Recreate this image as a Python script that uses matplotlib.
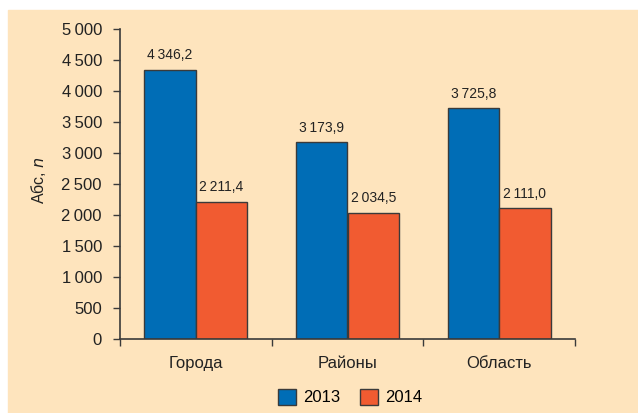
import numpy as np
import matplotlib.pyplot as plt
from matplotlib.patches import Rectangle

categories = ['Города', 'Районы', 'Область']
years = ['2013', '2014']
values_2013 = [4346.2, 3173.9, 3725.8]
values_2014 = [2211.4, 2034.5, 2111.0]
yticks = [0, 500, 1000, 1500, 2000, 2500, 3000, 3500, 4000, 4500, 5000]

blue = '#006DB6'
orange = '#F15B31'
beige = '#FEE4BD'
dark = '#3A3A3A'

plt.rcParams['font.family'] = ['Liberation Sans Narrow', 'Liberation Sans', 'DejaVu Sans']


def fmt(v, dec=0):
    s = f'{v:,.{dec}f}'
    return s.replace(',', '\u2009').replace('.', ',')


fig = plt.figure(figsize=(6.38, 4.13), dpi=100)
W, H = 638, 413
fig.patches.append(Rectangle((8 / W, 0), 1 - 8 / W, 1 - 10 / H,
                             transform=fig.transFigure, color=beige, zorder=-10))

ax = fig.add_axes([120 / W, 1 - 339 / H, (575 - 120) / W, (339 - 29) / H])
ax.set_facecolor('none')

x = np.arange(len(categories))
w = 0.34
b1 = ax.bar(x - w / 2, values_2013, w, color=blue, edgecolor=dark, linewidth=1, label=years[0])
b2 = ax.bar(x + w / 2, values_2014, w, color=orange, edgecolor=dark, linewidth=1, label=years[1])

for bars, vals in [(b1, values_2013), (b2, values_2014)]:
    for r, v in zip(bars, vals):
        ax.text(r.get_x() + r.get_width() / 2, v + 120, fmt(v, 1),
                ha='center', va='bottom', fontsize=10, color='#222222')

ax.set_xlim(-0.5, 2.5)
ax.set_ylim(0, 5000)
ax.set_yticks(yticks)
ax.set_yticklabels([fmt(t) for t in yticks], fontsize=12, color='#222222')
ax.set_xticks([-0.5, 0.5, 1.5, 2.5], minor=False)
ax.set_xticklabels([])
ax.set_xticks(x, minor=True)
ax.set_xticklabels(categories, minor=True, fontsize=12, color='#222222')
ax.tick_params(axis='x', which='minor', length=0, pad=12)
ax.tick_params(axis='x', which='major', length=5, color=dark, direction='out', width=1)
ax.tick_params(axis='y', length=5, color=dark, width=1, pad=8)

for s in ['top', 'right']:
    ax.spines[s].set_visible(False)
for s in ['left', 'bottom']:
    ax.spines[s].set_color(dark)
    ax.spines[s].set_linewidth(1.2)

fig.text(38 / W, 1 - 180 / H, 'Абс, $\\mathit{n}$', rotation=90, ha='center', va='center',
         fontsize=11.5, color='#222222')

fig.legend(handles=[b1, b2], labels=years, loc='center', bbox_to_anchor=(350 / W, 1 - 397 / H),
           ncol=2, frameon=False, fontsize=12, handlelength=1.1, handleheight=1.1,
           columnspacing=1.2, handletextpad=0.4)

fig.savefig('out.png', dpi=100)
